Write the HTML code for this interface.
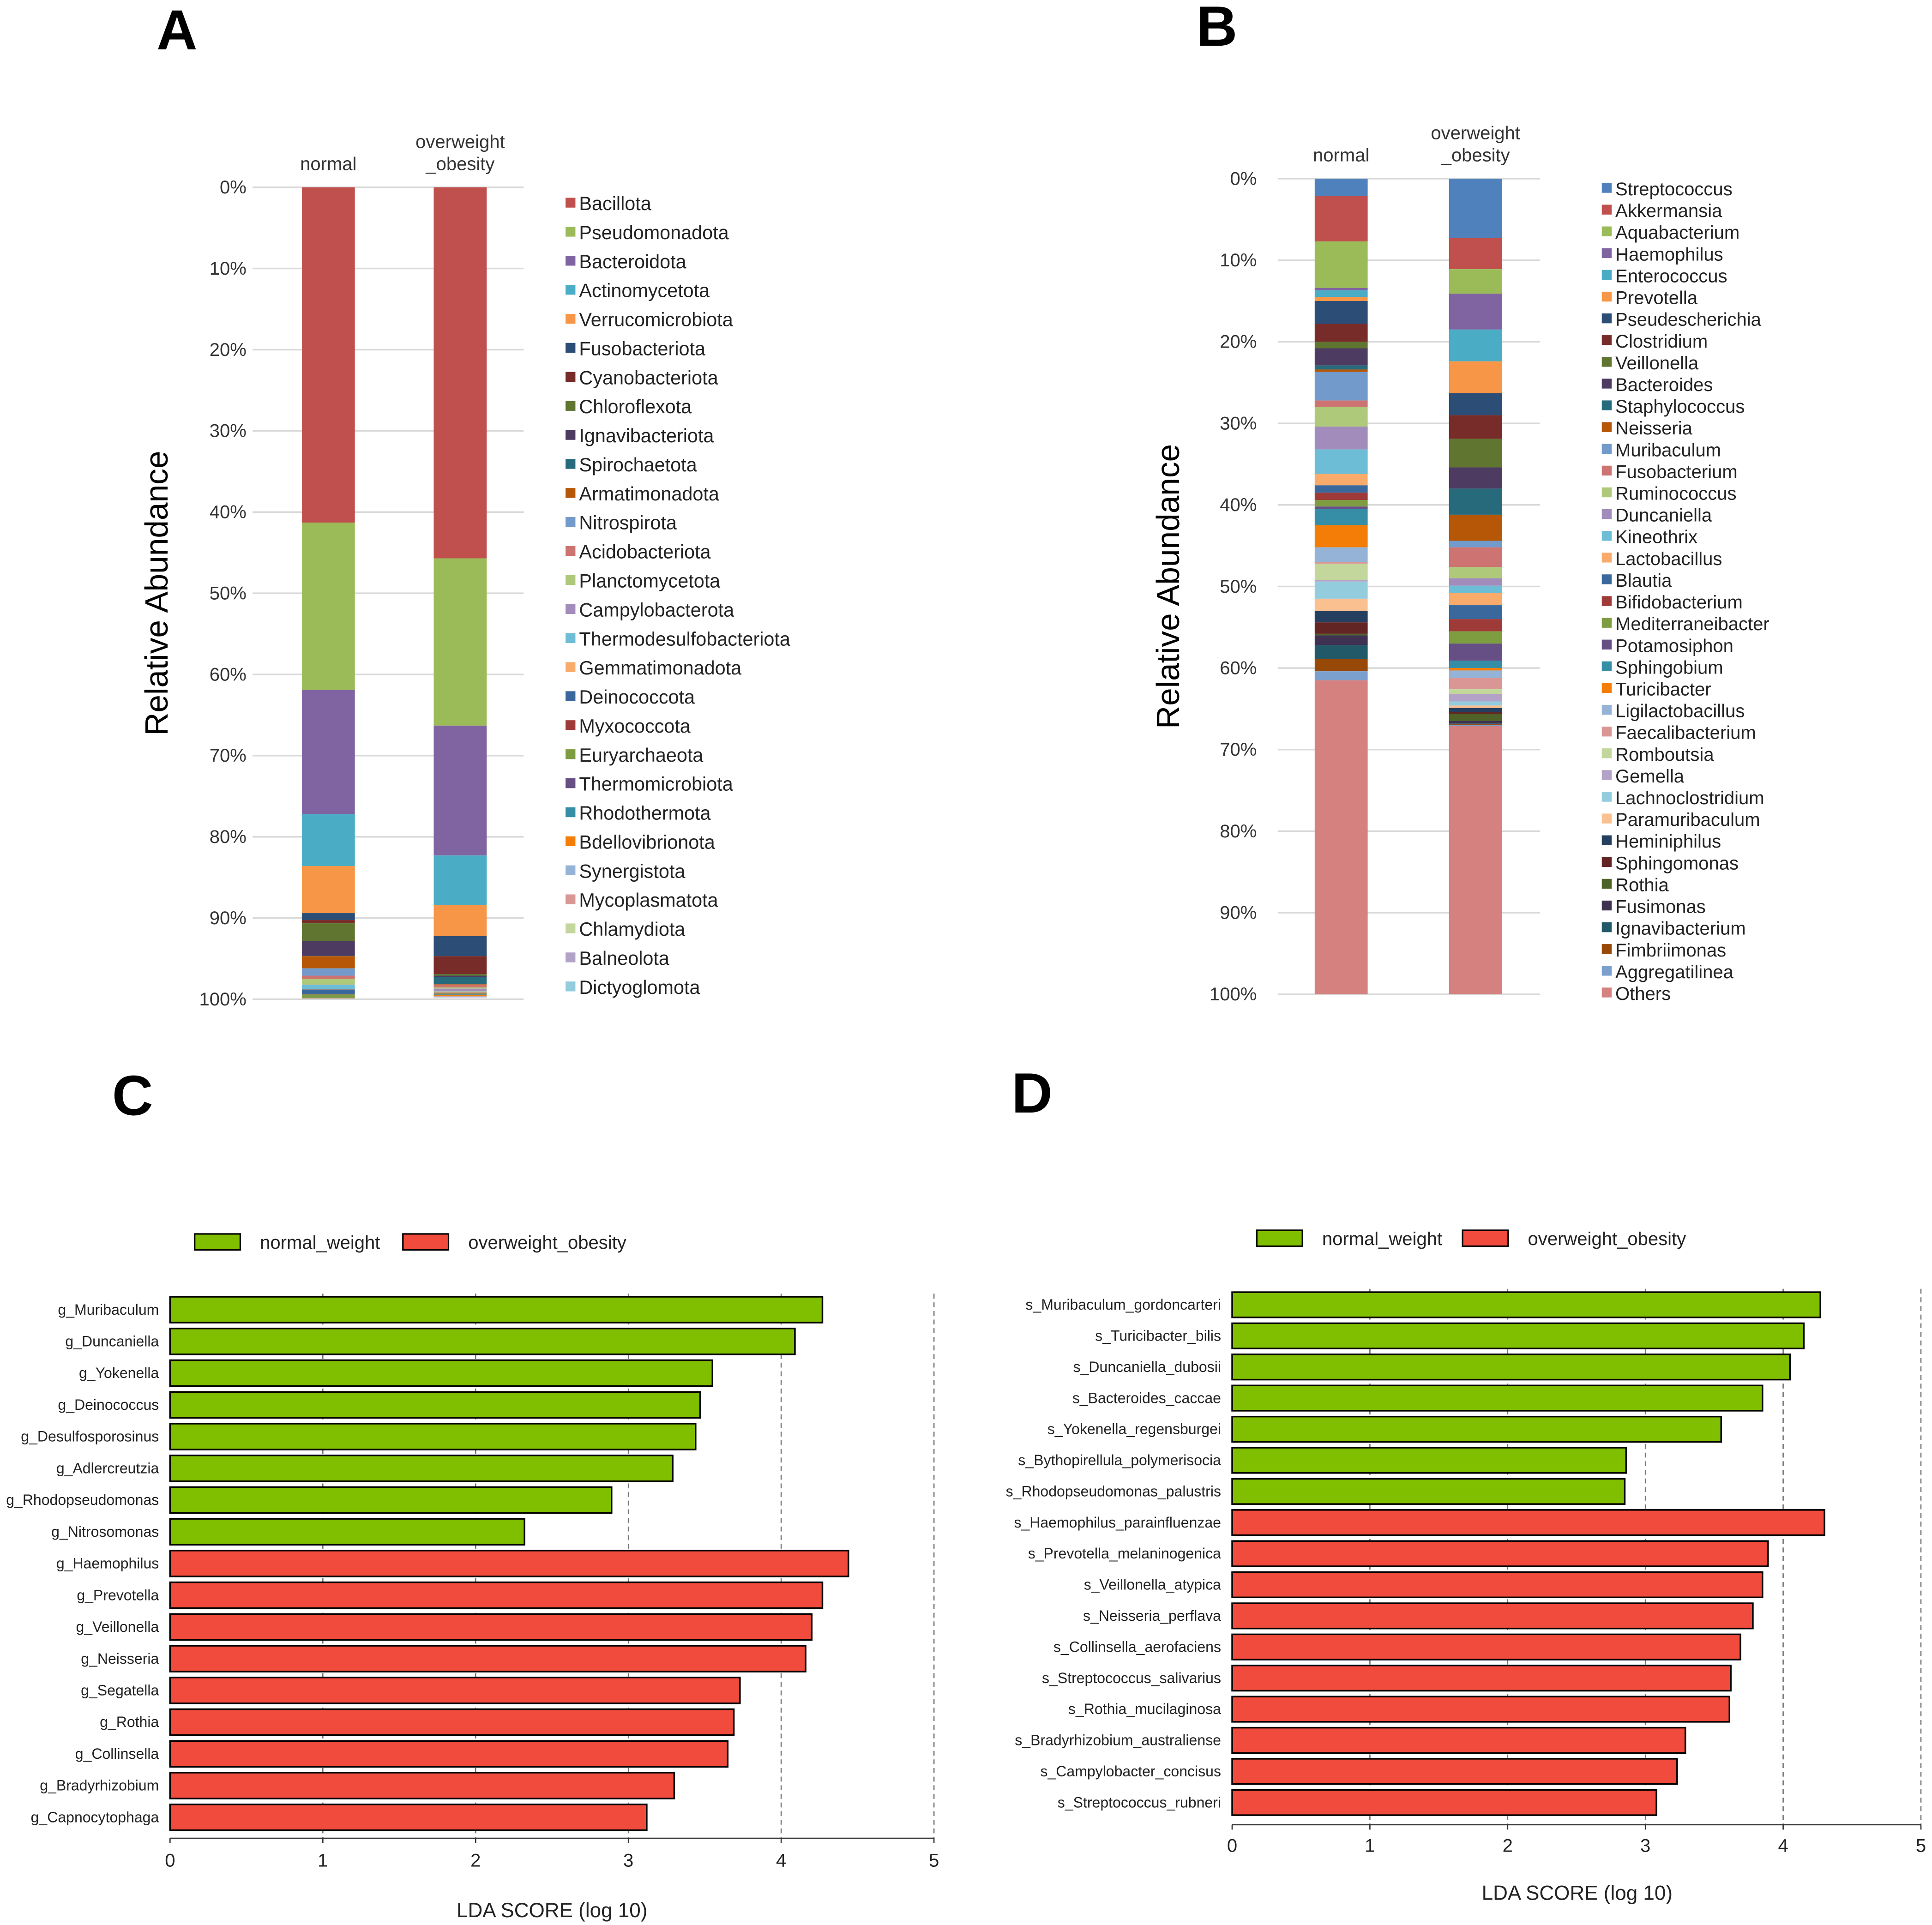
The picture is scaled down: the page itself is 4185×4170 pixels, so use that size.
<!DOCTYPE html>
<html><head><meta charset="utf-8"><style>
html,body{margin:0;padding:0;background:#fff}
svg{display:block;font-family:"Liberation Sans",sans-serif}
</style></head><body>
<svg id="fig" width="4185" height="4170" viewBox="0 0 1568 1562.4" preserveAspectRatio="none" xmlns="http://www.w3.org/2000/svg">
<g font-weight="bold" font-size="46" fill="#000">
<text x="127" y="40">A</text>
<text x="971" y="37">B</text>
<text x="91" y="905">C</text>
<text x="821" y="903">D</text>
</g>
</svg>
<script>
// ---------- Panel A data ----------
const aPhyla=["Bacillota","Pseudomonadota","Bacteroidota","Actinomycetota","Verrucomicrobiota","Fusobacteriota","Cyanobacteriota","Chloroflexota","Ignavibacteriota","Spirochaetota","Armatimonadota","Nitrospirota","Acidobacteriota","Planctomycetota","Campylobacterota","Thermodesulfobacteriota","Gemmatimonadota","Deinococcota","Myxococcota","Euryarchaeota","Thermomicrobiota","Rhodothermota","Bdellovibrionota","Synergistota","Mycoplasmatota","Chlamydiota","Balneolota","Dictyoglomota"];
const aNormal=[41.3,20.6,15.3,6.4,5.8,0.85,0.4,2.2,1.8,0.05,1.5,0.9,0.4,0.7,0.05,0.5,0.05,0.6,0.02,0.4,0.02,0.02,0.02,0.02,0.02,0.02,0.02,0.02];
const aOver=[45.7,20.6,16.0,6.1,3.8,2.5,2.2,0.2,0.15,0.9,0.05,0.05,0.3,0.15,0.3,0.05,0.15,0.05,0.05,0.05,0.05,0.05,0.15,0.05,0.05,0.05,0.02,0.02];
const aTicks=["0%","10%","20%","30%","40%","50%","60%","70%","80%","90%","100%"];
// ---------- Panel B data ----------
const bGenera=["Streptococcus","Akkermansia","Aquabacterium","Haemophilus","Enterococcus","Prevotella","Pseudescherichia","Clostridium","Veillonella","Bacteroides","Staphylococcus","Neisseria","Muribaculum","Fusobacterium","Ruminococcus","Duncaniella","Kineothrix","Lactobacillus","Blautia","Bifidobacterium","Mediterraneibacter","Potamosiphon","Sphingobium","Turicibacter","Ligilactobacillus","Faecalibacterium","Romboutsia","Gemella","Lachnoclostridium","Paramuribaculum","Heminiphilus","Sphingomonas","Rothia","Fusimonas","Ignavibacterium","Fimbriimonas","Aggregatilinea","Others"];
const bNormal=[2.1,5.6,5.7,0.3,0.8,0.5,2.8,2.2,0.8,2.1,0.5,0.3,3.5,0.8,2.4,2.8,3.0,1.4,0.9,0.9,0.8,0.3,2.0,2.7,1.8,0.2,2.0,0.2,2.1,1.5,1.4,1.4,0.2,1.2,1.7,1.5,1.1,38.5];
const bOver=[7.3,3.8,3.0,4.4,3.9,3.9,2.7,2.9,3.5,2.6,3.2,3.2,0.8,2.4,1.4,0.9,0.9,1.5,1.7,1.5,1.5,2.1,0.9,0.3,0.9,1.4,0.6,0.9,0.5,0.3,0.5,0.2,0.9,0.3,0.1,0.1,0.1,32.9];
// ---------- Panel C data ----------
const cTaxa=["g_Muribaculum","g_Duncaniella","g_Yokenella","g_Deinococcus","g_Desulfosporosinus","g_Adlercreutzia","g_Rhodopseudomonas","g_Nitrosomonas","g_Haemophilus","g_Prevotella","g_Veillonella","g_Neisseria","g_Segatella","g_Rothia","g_Collinsella","g_Bradyrhizobium","g_Capnocytophaga"];
const cScores=[4.27,4.09,3.55,3.47,3.44,3.29,2.89,2.32,4.44,4.27,4.20,4.16,3.73,3.69,3.65,3.30,3.12];
const cGroups=[0,0,0,0,0,0,0,0,1,1,1,1,1,1,1,1,1];
// ---------- Panel D data ----------
const dTaxa=["s_Muribaculum_gordoncarteri","s_Turicibacter_bilis","s_Duncaniella_dubosii","s_Bacteroides_caccae","s_Yokenella_regensburgei","s_Bythopirellula_polymerisocia","s_Rhodopseudomonas_palustris","s_Haemophilus_parainfluenzae","s_Prevotella_melaninogenica","s_Veillonella_atypica","s_Neisseria_perflava","s_Collinsella_aerofaciens","s_Streptococcus_salivarius","s_Rothia_mucilaginosa","s_Bradyrhizobium_australiense","s_Campylobacter_concisus","s_Streptococcus_rubneri"];
const dScores=[4.27,4.15,4.05,3.85,3.55,2.86,2.85,4.30,3.89,3.85,3.78,3.69,3.62,3.61,3.29,3.23,3.08];
const dGroups=[0,0,0,0,0,0,0,1,1,1,1,1,1,1,1,1,1];
const ldaTicks=[0,1,2,3,4,5];
const groupNames=["normal_weight","overweight_obesity"];

const palette=["#4f81bd","#c0504d","#9bbb59","#8064a2","#4bacc6","#f79646","#2c4d75","#772c2a","#5f7530","#4d3b62","#276a7c","#b65708","#729aca","#cd7371","#afc97a","#a18cbb","#6dbdd6","#f9ab6b","#3a679c","#9e3b39","#7e9c40","#664f84","#358ea6","#f47d07","#95b3d7","#d99694","#c3d69b","#b3a2c7","#93cddd","#fac090","#243f60","#632523","#4f6228","#3f3151","#215968","#984807","#7ba0cd","#d4817f"];
const NS="http://www.w3.org/2000/svg";
const svg=document.getElementById('fig');
function mk(tag,attrs,parent,text){const e=document.createElementNS(NS,tag);for(const k in attrs)e.setAttribute(k,attrs[k]);if(text!==undefined)e.textContent=text;(parent||svg).appendChild(e);return e;}

function stacked(cfg){
  const g=mk('g',{});
  
  
  const y=v=>cfg.y0+(cfg.y1-cfg.y0)*v/100;
  cfg.ticks.forEach((t,i)=>{
    const yy=y(i*10);
    const gl=mk('line',{x1:cfg.gx0,x2:cfg.gx1,y1:yy,y2:yy,stroke:'#d9d9d9','stroke-width':1.3},g);
    
    
    const tl=mk('text',{x:cfg.tx,y:yy+5,'text-anchor':'end','font-size':15,fill:'#333'},g,t);
    
    
  });
  const yt=mk('text',{x:0,y:0,transform:`translate(${cfg.ytx},${(cfg.y0+cfg.y1)/2}) rotate(-90)`,'text-anchor':'middle','font-size':26,fill:'#000'},g,'Relative Abundance');
  
  
  cfg.series.forEach((s,si)=>{
    let acc=0;
    s.vals.forEach((v,i)=>{
      const r=mk('rect',{x:s.x,y:y(acc),width:cfg.bw,height:Math.max(0,y(acc+v)-y(acc)),fill:cfg.colors[i]},g);
      
      
      acc+=v;
    });
    s.label.forEach((ln,li)=>{
      const t=mk('text',{x:s.x+cfg.bw/2,y:s.ly+li*18,'text-anchor':'middle','font-size':15,fill:'#333'},g,ln);
      
      
    });
  });
  cfg.cats.forEach((c,i)=>{
    const yy=cfg.ly0+i*cfg.lsp;
    const sq=mk('rect',{x:cfg.lx,y:yy-4.5,width:8,height:8,fill:cfg.colors[i]},g);
    
    
    const t=mk('text',{x:cfg.lx+11,y:yy+5.5,'font-size':cfg.lfs,fill:'#222'},g,c);
    
    
  });
}
stacked({name:'panel-a-chart',cats:aPhyla,colors:palette.slice(1),ticks:aTicks,y0:152,y1:811,gx0:205,gx1:425,tx:200,ytx:136,bw:43,
  series:[{x:245,vals:aNormal,label:['normal'],ly:138},{x:352,vals:aOver,label:['overweight','_obesity'],ly:120}],
  lx:459,ly0:165,lsp:23.56,lfs:15.5});
stacked({name:'panel-b-chart',cats:bGenera,colors:palette,ticks:aTicks,y0:145,y1:807,gx0:1037,gx1:1250,tx:1020,ytx:957,bw:43,
  series:[{x:1067,vals:bNormal,label:['normal'],ly:131},{x:1176,vals:bOver,label:['overweight','_obesity'],ly:113}],
  lx:1300,ly0:153,lsp:17.65,lfs:15});

function lda(cfg){
  const g=mk('g',{});
  
  
  const x=v=>cfg.x0+(cfg.x5-cfg.x0)*v/5;
  const cols=['#80bf00','#f04b3c'];
  groupNames.forEach((n,i)=>{
    const r=mk('rect',{x:cfg.legX[i],y:cfg.legY-6.5,width:37,height:13,fill:cols[i],stroke:'#000','stroke-width':1.2},g);
    
    
    const t=mk('text',{x:cfg.legX[i]+53,y:cfg.legY+5.5,'font-size':15,fill:'#222'},g,n);
    
    
  });
  ldaTicks.forEach(v=>{
    if(v>0){const l=mk('line',{x1:x(v),x2:x(v),y1:cfg.gTop,y2:cfg.gBot,stroke:'#777','stroke-width':1,'stroke-dasharray':'4,3'},g);
    
    }
    const tk=mk('line',{x1:x(v),x2:x(v),y1:cfg.gBot,y2:cfg.gBot+4,stroke:'#333','stroke-width':1},g);
    
    
    const t=mk('text',{x:x(v),y:cfg.tickY,'text-anchor':'middle','font-size':15,fill:'#222'},g,String(v));
    
    
  });
  const ax=mk('line',{x1:x(0),x2:x(5),y1:cfg.gBot,y2:cfg.gBot,stroke:'#333','stroke-width':1},g);
  
  
  cfg.taxa.forEach((tx,i)=>{
    const cy=cfg.by0+i*cfg.bsp;
    const r=mk('rect',{x:x(0),y:cy-cfg.bh/2,width:x(cfg.scores[i])-x(0),height:cfg.bh,fill:cols[cfg.groups[i]],stroke:'#000','stroke-width':1.3},g);
    
    
    const t=mk('text',{x:cfg.labX,y:cy+4,'text-anchor':'end','font-size':12,fill:'#222'},g,tx);
    
    
  });
  const xt=mk('text',{x:cfg.titleX,y:cfg.titleY,'text-anchor':'middle','font-size':16.5,fill:'#222'},g,'LDA SCORE (log 10)');
  
  
}
lda({name:'panel-c-chart',taxa:cTaxa,scores:cScores,groups:cGroups,x0:138,x5:758,by0:1063,bsp:25.75,bh:21,labX:129,
  gTop:1050,gBot:1492,tickY:1515,titleX:448,titleY:1556,legX:[158,327],legY:1008});
lda({name:'panel-d-chart',taxa:dTaxa,scores:dScores,groups:dGroups,x0:1000,x5:1559,by0:1059,bsp:25.25,bh:20.5,labX:991,
  gTop:1046,gBot:1481,tickY:1503,titleX:1280,titleY:1542,legX:[1020,1187],legY:1005});
</script>
</body></html>
